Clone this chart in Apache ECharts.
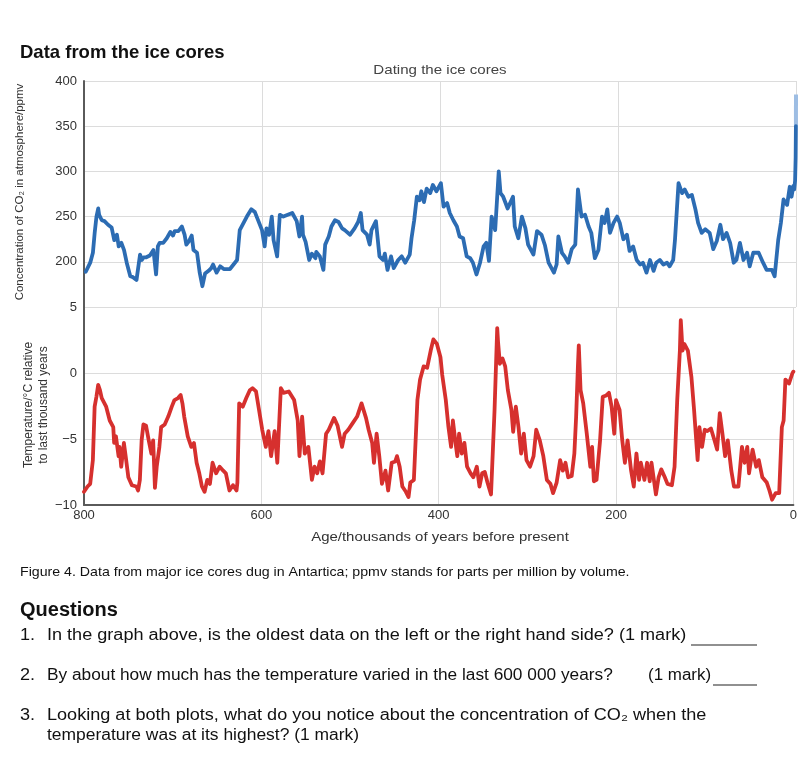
<!DOCTYPE html>
<html>
<head>
<meta charset="utf-8">
<script src="https://cdn.jsdelivr.net/npm/echarts@6/dist/echarts.min.js"></script>
<style>
html,body{margin:0;padding:0;background:#fff;}
#chart{width:800px;height:769px;}
</style>
</head>
<body>
<div id="chart"></div>
<script>
// ---- Data (age in thousands of years before present) ----
const xTicks = [800, 600, 400, 200, 0];
const co2Ticks = [200, 250, 300, 350, 400];
const tempTicks = [-10, -5, 0, 5];

const co2Age = [798,796,793,790,788,786,784,783,780,777,773,769,766,763,761,758,755,752,748,745,741,739,737,735,733,730,726,722,719,717,715,711,707,703,700,698,694,690,687,685,682,679,677,673,670,667,664,660,657,655,651,647,643,636,632,628,625,617,612,608,604,600,597,595,592,589,587,583,580,576,571,566,561,558,555,554,551,547,544,540,539,535,531,529,525,522,518,514,510,507,501,496,492,489,487,482,479,477,472,468,464,462,459,455,452,447,443,439,434,432,429,426,423,421,418,415,411,408,404,399,396,392,389,385,381,378,374,370,366,363,359,355,351,348,345,342,338,334,332,329,324,318,316,312,308,304,301,295,291,286,282,278,272,269,267,263,260,256,252,248,245,241,237,233,230,226,222,218,215,212,209,205,201,198,194,190,187,183,179,175,172,168,164,160,157,153,149,145,142,138,136,132,128,125,121,117,113,110,106,102,97,93,89,85,82,78,74,70,67,63,59,55,52,48,42,37,33,27,24,20,17,14,10,7,5,3,2,1,0.4,0.1];
const co2Val = [189,189,199,210,232,250,259,252,246,245,241,238,224,230,217,221,213,199,184,183,180,178,208,202,205,205,207,213,186,217,221,221,226,233,229,234,234,239,230,219,223,229,213,210,188,173,187,190,193,197,188,195,192,192,197,202,235,250,258,255,245,235,217,237,230,250,224,206,252,250,252,254,245,228,250,230,222,202,209,204,211,206,191,219,228,239,246,244,237,235,230,237,244,254,235,230,219,235,245,206,202,209,191,206,193,202,206,199,208,226,246,272,268,278,266,281,276,285,278,287,261,265,254,246,239,228,226,206,204,199,186,199,217,221,201,250,235,300,276,272,259,272,239,226,250,237,219,208,234,230,218,199,188,197,228,210,206,199,214,219,280,250,252,239,232,204,213,250,243,258,232,243,250,243,225,230,212,217,202,197,199,188,202,190,199,202,197,199,195,202,224,287,276,280,272,274,258,243,232,236,232,214,223,241,225,232,221,199,202,221,202,210,195,210,210,199,191,191,184,224,243,269,263,283,272,284,280,290,315,350];
const co2RecentAge = [0.1, 0];
const co2RecentVal = [350, 385];

const tempAge = [800,796,793,790,788,786,784,782,780,778,775,771,767,766,764,761,760,758,755,753,750,746,741,739,737,735,733,730,727,724,722,720,718,715,713,709,705,701,698,694,691,689,687,683,679,676,673,670,667,664,661,658,655,651,647,643,640,636,632,628,627,625,621,617,613,610,606,602,599,595,592,589,585,582,578,575,569,563,559,557,554,551,547,543,540,537,534,531,527,524,518,514,509,506,502,497,492,487,482,479,475,473,470,467,464,460,457,453,449,447,444,441,437,434,432,428,424,421,417,413,409,406,402,398,396,392,389,386,384,381,379,377,374,371,368,364,361,357,354,351,348,345,341,337,334,333,331,328,325,322,318,316,313,310,307,304,301,297,293,290,286,282,278,274,271,267,263,260,257,254,250,247,245,243,242,240,237,233,229,227,225,222,218,215,211,208,205,202,200,196,193,190,187,183,180,177,174,172,168,165,162,160,155,152,149,145,142,137,134,131,128,127,125,123,119,115,112,108,106,103,100,97,93,89,86,83,80,77,74,70,67,62,58,55,52,50,46,42,39,35,30,27,24,20,16,13,11,9,5,1,0];
const tempVal = [-9.0,-8.6,-8.4,-6.6,-2.55,-1.8,-0.9,-1.3,-1.9,-2.05,-2.55,-3.6,-4.1,-5.3,-4.8,-6.3,-5.6,-7.1,-5.3,-6.3,-7.9,-8.5,-8.6,-8.9,-8.1,-5.1,-3.9,-4.0,-5.1,-6.1,-5.1,-8.7,-7.1,-5.6,-4.1,-3.9,-3.3,-2.55,-2.05,-1.9,-1.67,-2.3,-3.3,-4.8,-5.6,-5.3,-6.8,-7.6,-8.6,-9.0,-8.1,-8.4,-6.8,-7.6,-7.1,-7.4,-7.6,-8.9,-8.5,-8.9,-8.3,-2.3,-2.55,-1.9,-1.3,-1.15,-1.4,-3.05,-4.3,-5.6,-4.4,-6.3,-4.4,-6.8,-1.15,-1.5,-1.4,-2.05,-3.6,-6.3,-3.3,-6.1,-5.6,-8.1,-7.1,-7.6,-6.7,-7.6,-4.6,-4.3,-3.4,-4.0,-5.6,-4.6,-4.3,-3.8,-3.3,-2.3,-3.4,-4.3,-5.3,-6.8,-4.6,-6.3,-8.4,-7.4,-8.9,-6.8,-6.7,-6.3,-7.1,-8.6,-9.0,-9.4,-8.3,-8.1,-2.05,-0.5,0.5,0.4,1.7,2.55,2.2,1.2,-0.15,-2.05,-4.1,-5.6,-3.6,-5.3,-6.3,-4.6,-6.1,-5.3,-7.1,-7.6,-7.9,-7.1,-8.6,-7.6,-7.5,-8.3,-9.2,-2.8,3.4,2.3,0.7,1.1,0.5,-1.3,-2.8,-4.45,-2.55,-4.1,-6.1,-4.6,-6.6,-7.1,-6.3,-4.3,-5.1,-6.3,-8.1,-8.4,-9.1,-8.3,-6.6,-7.4,-6.8,-7.9,-7.8,-6.1,-3.3,0.5,2.1,-1.3,-2.3,-4.6,-7.1,-5.6,-8.2,-8.1,-5.1,-1.8,-1.7,-1.5,-2.55,-4.6,-2.05,-2.8,-5.1,-6.8,-5.1,-7.4,-8.6,-6.1,-8.1,-6.8,-8.1,-6.8,-8.2,-6.8,-9.2,-7.9,-7.3,-7.9,-8.4,-8.5,-7.1,-2.05,1.7,4.0,1.7,2.2,1.7,-0.3,-2.8,-6.6,-4.1,-5.6,-4.3,-4.4,-4.2,-5.1,-5.8,-3.05,-4.6,-6.3,-5.1,-7.4,-8.6,-8.6,-5.6,-6.8,-5.6,-7.6,-5.8,-7.1,-6.6,-7.9,-8.3,-8.9,-9.6,-9.1,-9.1,-4.1,-3.6,-0.5,-0.8,0.0,0.1];

// ---- Build chart ----
const zip = (a, b) => a.map((v, i) => [v, b[i]]);
const FONT = '"Liberation Sans", Arial, Helvetica, sans-serif';
const BLUE = '#2c6cb3';
const RED = '#d6302e';
const GRID_COLOR = '#dcdcdc';
const AXIS_COLOR = '#5a5a5a';
const minus = v => String(v).replace('-', '\u2212');

function txt(x, y, text, size, opts) {
  opts = opts || {};
  return {
    type: 'text', x: x, y: y, scaleX: opts.sx || 1, rotation: opts.rot || 0,
    style: {
      text: text, fontSize: size, fontFamily: FONT, fontWeight: opts.bold ? 'bold' : 'normal',
      fill: opts.fill || '#111', align: opts.align || 'left', verticalAlign: 'middle'
    }
  };
}

const chart = echarts.init(document.getElementById('chart'), null, {renderer: 'canvas'});

const option = {
  animation: false,
  backgroundColor: '#fff',
  grid: [
    {left: 84, right: 4, top: 81, height: 226},
    {left: 84, right: 4, top: 307, height: 198}
  ],
  xAxis: [
    {
      gridIndex: 0, type: 'value', min: 0, max: 800, interval: 200, inverse: true,
      axisLine: {show: false}, axisTick: {show: false}, axisLabel: {show: false},
      splitLine: {show: true, lineStyle: {color: GRID_COLOR, width: 1}}
    },
    {
      gridIndex: 1, type: 'value', min: 0, max: 800, interval: 200, inverse: true,
      axisLine: {show: true, onZero: false, lineStyle: {color: AXIS_COLOR, width: 2}},
      axisTick: {show: false},
      axisLabel: {
        show: true, color: '#333', fontSize: 13, fontFamily: FONT, margin: 4,
        formatter: v => xTicks.includes(v) ? String(v) : ''
      },
      splitLine: {show: true, lineStyle: {color: GRID_COLOR, width: 1}}
    }
  ],
  yAxis: [
    {
      gridIndex: 0, type: 'value', min: 150, max: 400, interval: 50, position: 'left',
      axisLine: {show: true, onZero: false, lineStyle: {color: AXIS_COLOR, width: 2}},
      axisTick: {show: false},
      axisLabel: {
        color: '#333', fontSize: 13, fontFamily: FONT, margin: 7,
        formatter: v => co2Ticks.includes(v) ? String(v) : ''
      },
      splitLine: {show: true, lineStyle: {color: GRID_COLOR, width: 1}}
    },
    {
      gridIndex: 1, type: 'value', min: -10, max: 5, interval: 5, position: 'left',
      axisLine: {show: true, onZero: false, lineStyle: {color: AXIS_COLOR, width: 2}},
      axisTick: {show: false},
      axisLabel: {
        color: '#333', fontSize: 13, fontFamily: FONT, margin: 7,
        formatter: v => tempTicks.includes(v) ? minus(v) : ''
      },
      splitLine: {show: true, lineStyle: {color: GRID_COLOR, width: 1}}
    }
  ],
  series: [
    {
      name: 'CO2', type: 'line', xAxisIndex: 0, yAxisIndex: 0,
      data: zip(co2Age, co2Val), showSymbol: false, symbol: 'none',
      lineStyle: {color: BLUE, width: 3.8, join: 'round', cap: 'round'}, z: 3
    },
    {
      name: 'CO2 recent', type: 'line', xAxisIndex: 0, yAxisIndex: 0,
      data: zip(co2RecentAge, co2RecentVal), showSymbol: false, symbol: 'none',
      lineStyle: {color: '#9dbde3', width: 4, cap: 'butt'}, z: 2
    },
    {
      name: 'Temperature', type: 'line', xAxisIndex: 1, yAxisIndex: 1,
      data: zip(tempAge, tempVal), showSymbol: false, symbol: 'none',
      lineStyle: {color: RED, width: 3.8, join: 'round', cap: 'round'}, z: 3
    }
  ],
  graphic: [
    txt(20, 53, 'Data from the ice cores', 18.5, {bold: true}),
    txt(440, 70, 'Dating the ice cores', 13, {align: 'center', fill: '#444', sx: 1.16}),
    txt(20, 192, 'Concentration of CO\u2082 in atmosphere/ppmv', 11.5, {align: 'center', fill: '#333', rot: Math.PI / 2}),
    txt(29, 405, 'Temperature/\u00B0C relative', 12, {align: 'center', fill: '#333', rot: Math.PI / 2}),
    txt(44, 405, 'to last thousand years', 12, {align: 'center', fill: '#333', rot: Math.PI / 2}),
    txt(440, 537, 'Age/thousands of years before present', 13, {align: 'center', fill: '#333', sx: 1.15}),
    txt(20, 572, 'Figure 4. Data from major ice cores dug in Antartica; ppmv stands for parts per million by volume.', 13, {sx: 1.09}),
    txt(20, 610, 'Questions', 20, {bold: true}),
    txt(20, 636, '1.', 16, {sx: 1.13}),
    txt(47, 636, 'In the graph above, is the oldest data on the left or the right hand side? (1 mark)', 16, {sx: 1.13}),
    {type: 'line', shape: {x1: 691, y1: 645, x2: 757, y2: 645}, style: {stroke: '#222', lineWidth: 1.2}},
    txt(20, 676, '2.', 16, {sx: 1.13}),
    txt(47, 676, 'By about how much has the temperature varied in the last 600 000 years?', 16, {sx: 1.08}),
    txt(648, 676, '(1 mark)', 16, {sx: 1.06}),
    {type: 'line', shape: {x1: 713, y1: 685, x2: 757, y2: 685}, style: {stroke: '#222', lineWidth: 1.2}},
    txt(20, 716, '3.', 16, {sx: 1.13}),
    txt(47, 716, 'Looking at both plots, what do you notice about the concentration of CO\u2082 when the', 16, {sx: 1.13}),
    txt(47, 736, 'temperature was at its highest? (1 mark)', 16, {sx: 1.09})
  ]
};
chart.setOption(option);
</script>
</body>
</html>
